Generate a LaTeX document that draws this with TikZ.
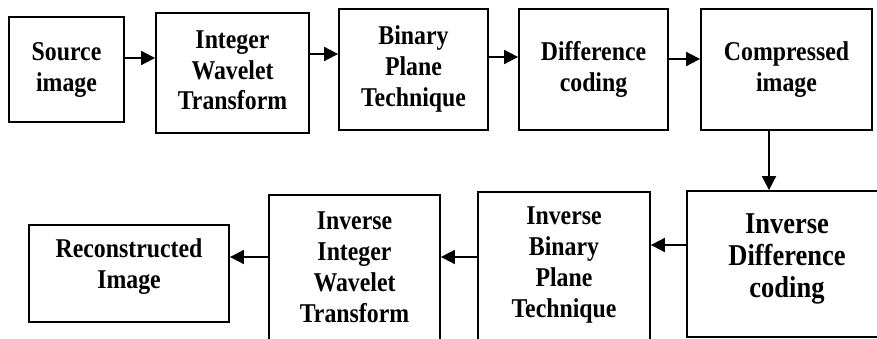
\documentclass[tikz,border=0pt]{standalone}
\usepackage{fontspec}
\setmainfont{Liberation Serif}
\usepackage{graphicx}
\usepackage{tikz}
\usetikzlibrary{arrows.meta}

\newcommand{\boxtext}[1]{\scalebox{1}[1.14]{\begin{tabular}{@{}c@{}}#1\end{tabular}}}

\tikzset{
  blockbox/.style={draw, line width=1.8pt, inner sep=0pt, align=center,
    font=\bfseries\fontsize{23.8}{27}\selectfont},
  blocktxt/.style={inner sep=0pt, font=\bfseries\fontsize{23.8}{27}\selectfont},
  flow/.style={line width=1.8pt, -{Triangle[length=14pt, width=14pt]}}
}

\begin{document}
\begin{tikzpicture}[x=1pt, y=-1pt]
  \clip (0,0) rectangle (877,339);

  \node[blockbox, minimum width=115pt, minimum height=105pt] (src) at (66.5,69.5) {\boxtext{Source\\image}};
  \node[blockbox, minimum width=153pt, minimum height=120pt] (iwt) at (232.5,73) {\boxtext{Integer\\Wavelet\\Transform}};
  \node[blockbox, minimum width=149pt, minimum height=121pt] (bpt) at (413.5,69.5) {\boxtext{Binary\\Plane\\Technique}};
  \node[blockbox, minimum width=149pt, minimum height=121pt] (dc) at (593.5,69.5) {\boxtext{Difference\\coding}};
  \node[blockbox, minimum width=171pt, minimum height=121pt] (ci) at (786.5,69.5) {\boxtext{Compressed\\image}};

  \node[blockbox, minimum width=200pt, minimum height=146pt] (idc) at (787,264) {};
  \node[blockbox, minimum width=172pt, minimum height=200pt] (ibpt) at (564,292) {};
  \node[blockbox, minimum width=171pt, minimum height=200pt] (iiwt) at (354.5,295) {};
  \node[blockbox, minimum width=200pt, minimum height=97pt] (rec) at (129,273.5) {};

  \node[blocktxt, font=\bfseries\fontsize{26.5}{28.5}\selectfont] (idc-t) at (787,259) {\boxtext{Inverse\\Difference\\coding}};
  \node[blocktxt] (ibpt-t) at (564,265) {\boxtext{Inverse\\Binary\\Plane\\Technique}};
  \node[blocktxt] (iiwt-t) at (354.5,270) {\boxtext{Inverse\\Integer\\Wavelet\\Transform}};
  \node[blocktxt] (rec-t) at (129,267) {\boxtext{Reconstructed\\Image}};

  \draw[flow] (src.east |- 0,58) -- (iwt.west |- 0,58);
  \draw[flow] (iwt.east |- 0,54) -- (bpt.west |- 0,54);
  \draw[flow] (bpt.east |- 0,57) -- (dc.west |- 0,57);
  \draw[flow] (dc.east |- 0,59) -- (ci.west |- 0,59);
  \draw[flow] (ci.south -| 769,0) -- (idc.north -| 769,0);

  \draw[flow] (idc.west |- 0,245) -- (ibpt.east |- 0,245);
  \draw[flow] (ibpt.west |- 0,257) -- (iiwt.east |- 0,257);
  \draw[flow] (iiwt.west |- 0,257) -- (rec.east |- 0,257);
\end{tikzpicture}
\end{document}
